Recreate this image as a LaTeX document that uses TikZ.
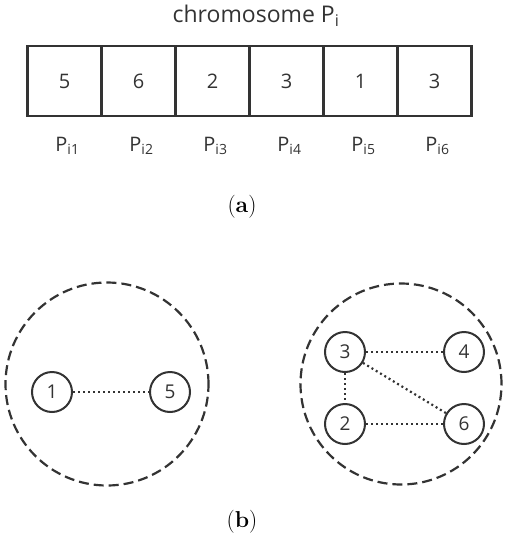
\documentclass[tikz,border=0pt]{standalone}
\usepackage{fontspec}
\newfontfamily\lab{Open Sans}
\definecolor{ink}{HTML}{333333}
\begin{document}
\begin{tikzpicture}[x=1pt,y=-1pt,
  cell/.style={draw=ink,line width=2.2pt,minimum width=74pt,minimum height=70pt,inner sep=0pt,font=\lab\fontsize{20}{24}\selectfont,text=ink},
  plab/.style={font=\lab\fontsize{20}{24}\selectfont,text=ink,inner sep=0pt},
  gnode/.style={circle,draw=ink,line width=2pt,minimum size=40pt,inner sep=0pt,font=\lab\fontsize{19}{22}\selectfont,text=ink},
  group/.style={circle,draw=ink,line width=2.2pt,dash pattern=on 10pt off 5pt,inner sep=0pt},
  link/.style={draw=ink,line width=2.2pt,dash pattern=on 2pt off 3pt},
  subcap/.style={font=\fontsize{23}{27}\selectfont,inner sep=0pt}]
\useasboundingbox (0,0) rectangle (507,550);
\node[font=\lab\fontsize{23}{27}\selectfont,text=ink,inner sep=0pt] (title) at (256,16) {chromosome P\textsubscript{i}};
\foreach \v/\x [count=\k] in {5/64.5,6/138.5,2/212.5,3/286.5,1/360.5,3/434.5}{
  \node[cell] (c\k) at (\x,81) {\v};
  \node[plab] (p\k) at (\x+3,146) {P\textsubscript{i\k}};
}
\node[subcap] (capa) at (242,207) {(\textbf{a})};
\node[group,minimum size=203pt] (g1) at (107,384) {};
\node[group,minimum size=201pt] (g2) at (401,384) {};
\node[gnode] (n1) at (52,392) {1};
\node[gnode] (n5) at (170,392) {5};
\node[gnode] (n3) at (345,352) {3};
\node[gnode] (n4) at (464,352) {4};
\node[gnode] (n2) at (345,424) {2};
\node[gnode] (n6) at (464,424) {6};
\draw[link] (n1) -- (n5);
\draw[link] (n3) -- (n4);
\draw[link] (n3) -- (n2);
\draw[link] (n2) -- (n6);
\draw[link] (n3) -- (n6);
\node[subcap] (capb) at (242,522) {(\textbf{b})};
\end{tikzpicture}
\end{document}
